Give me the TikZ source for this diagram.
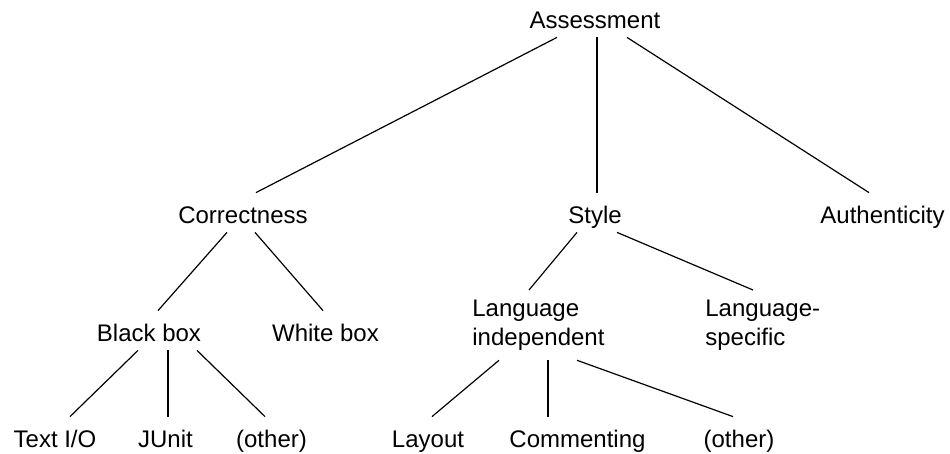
\documentclass[tikz,border=0pt]{standalone}
\usepackage{fontspec}
\setmainfont{Liberation Sans}

\begin{document}
\begin{tikzpicture}[x=0.5pt, y=-0.5pt,
  term/.style={font=\fontsize{12}{14.5}\selectfont, anchor=base, inner xsep=0pt, inner ysep=4.25pt, text height=11pt, text depth=0pt},
  twoline/.style={font=\fontsize{12}{14.5}\selectfont, anchor=north west, align=left, inner xsep=0pt, inner ysep=4.75pt},
  link/.style={line width=0.6pt}]
  \useasboundingbox (0,0) rectangle (950,454);

  % Root node
  \node[term] (ass) at (595,28.5) {Assessment};

  % Level 1
  \node[term] (cor) at (243,223.5) {Correctness};
  \node[term] (sty) at (595,223.5) {Style};
  \node[term] (aut) at (882.5,223.5) {Authenticity};

  % Level 2
  \node[term] (bb) at (149,341.5) {Black box};
  \node[term] (wb) at (325.5,341.5) {White box};
  \node[twoline] (li) at (472,290) {Language\\independent};
  \node[twoline] (ls) at (705,290) {Language-\\specific};

  % Leaves
  \node[term] (tio) at (55,447.5) {Text I/O};
  \node[term] (jun) at (165.5,447.5) {JUnit};
  \node[term] (ot1) at (271.5,447.5) {(other)};
  \node[term] (lay) at (428,447.5) {Layout};
  \node[term] (com) at (577.5,447.5) {Commenting};
  \node[term] (ot2) at (739,447.5) {(other)};

  % Lines from root
  \draw[link] ([shift={(-38,0)}]ass.south) -- ([shift={(13,0)}]cor.north);
  \draw[link] ([shift={(2,0)}]ass.south) -- ([shift={(2,0)}]sty.north);
  \draw[link] ([shift={(32,0)}]ass.south) -- ([shift={(-13.5,0)}]aut.north);

  % Correctness branch
  \draw[link] ([shift={(-16,0)}]cor.south) -- ([shift={(9,0)}]bb.north);
  \draw[link] ([shift={(12,0)}]cor.south) -- ([shift={(-2.5,0)}]wb.north);
  \draw[link] ([shift={(-11,0)}]bb.south) -- ([shift={(15,0)}]tio.north);
  \draw[link] ([shift={(19,0)}]bb.south) -- ([shift={(2.5,0)}]jun.north);
  \draw[link] ([shift={(48,0)}]bb.south) -- ([shift={(-6.5,0)}]ot1.north);

  % Style branch
  \draw[link] ([shift={(-18,0)}]sty.south) -- ([shift={(57,0)}]li.north west);
  \draw[link] ([shift={(22,0)}]sty.south) -- ([shift={(48,0)}]ls.north west);
  \draw[link] ([shift={(27,0)}]li.south west) -- ([shift={(4,0)}]lay.north);
  \draw[link] ([shift={(76,0)}]li.south west) -- ([shift={(-29.5,0)}]com.north);
  \draw[link] ([shift={(105,0)}]li.south west) -- ([shift={(-6,0)}]ot2.north);
\end{tikzpicture}
\end{document}
